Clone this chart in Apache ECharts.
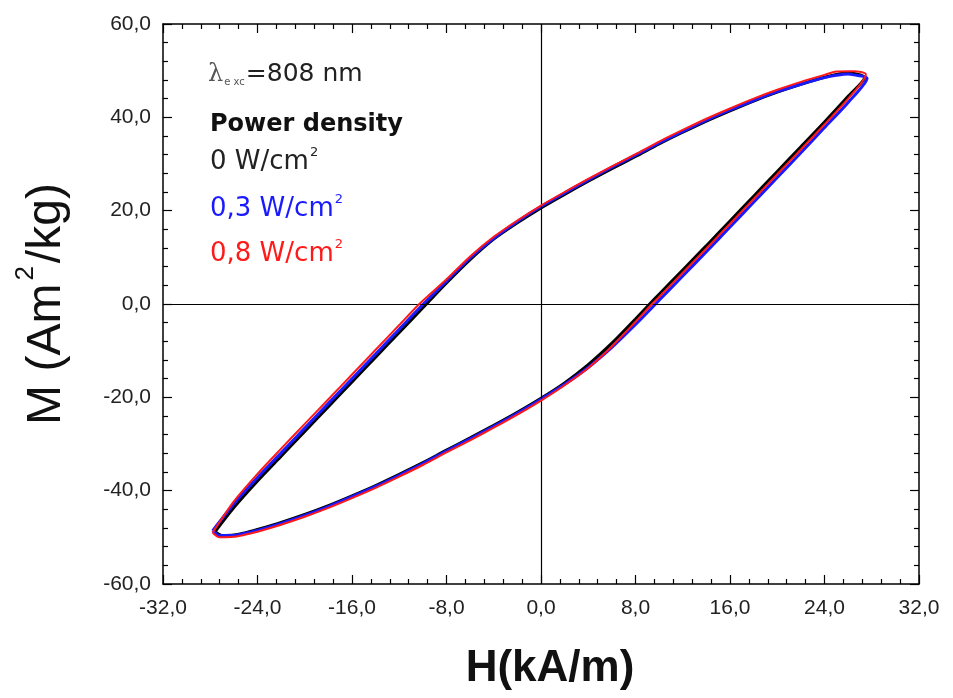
<!DOCTYPE html>
<html>
<head>
<meta charset="utf-8">
<script src="https://cdn.jsdelivr.net/npm/echarts@6/dist/echarts.min.js"></script>
<style>html,body{margin:0;padding:0;background:#fff;}#c{width:953px;height:698px;}</style>
</head>
<body>
<div id="c"></div>
<script>
// Hysteresis loops: lower branch (increasing H) followed by upper branch (decreasing H)
const blackH = [-27.6,-27.0,-26,-25,-24,-22,-20,-18,-16,-14,-12,-10,-8,-6,-4,-2,0,2,4,6,8,9.2,10,12,14,16,18,20,22,24,26,27.4,
                26.5,26,25,24,22,20,18,16,14,12,10,8,6,4,2,0,-2,-4,-6,-8,-9.7,-10,-12,-14,-16,-18,-20,-22,-24,-26,-27.6];
const blackM = [-48.8,-49.6,-49.5,-49.0,-48.3,-46.8,-45.1,-43.2,-41.1,-38.9,-36.5,-34.0,-31.3,-28.7,-26.0,-23.2,-20.2,-16.9,-13.0,-8.4,-3.2,0.0,2.1,7.3,12.5,17.8,23.1,28.4,33.7,39.0,44.5,48.6,
                49.4,49.5,49.2,48.6,47.1,45.4,43.5,41.4,39.2,36.8,34.3,31.6,29.0,26.3,23.5,20.6,17.4,13.9,9.5,4.5,0.0,-0.8,-6.1,-11.4,-16.7,-22.0,-27.3,-32.6,-37.9,-43.6,-48.8];
const blueH  = [-27.8,-27.2,-26,-25,-24,-22,-20,-18,-16,-14,-12,-10,-8,-6,-4,-2,0,2,4,6,8,9.7,10,12,14,16,18,20,22,24,26,27.6,
                26.5,26,25,24,22,20,18,16,14,12,10,8,6,4,2,0,-2,-4,-6,-8,-10,-12,-14,-16,-18,-20,-22,-24,-26,-27.8];
const blueM  = [-48.6,-49.6,-49.6,-49.1,-48.5,-47.0,-45.3,-43.4,-41.3,-39.1,-36.7,-34.2,-31.5,-28.9,-26.2,-23.4,-20.4,-17.2,-13.6,-9.3,-4.4,0.0,0.8,6.0,11.2,16.5,21.8,27.1,32.4,37.8,43.2,48.4,
                49.1,49.3,49.0,48.5,47.1,45.5,43.6,41.6,39.4,37.0,34.5,31.9,29.3,26.6,23.8,20.9,17.7,14.1,9.9,4.9,-0.1,-5.4,-10.7,-16.0,-21.3,-26.6,-31.9,-37.2,-42.8,-48.6];
const redH   = [-27.8,-27.2,-26,-25,-24,-22,-20,-18,-16,-14,-12,-10,-8,-6,-4,-2,0,2,4,6,8,9.4,10,12,14,16,18,20,22,24,26,27.5,
                26.5,26,25,24,22,20,18,16,14,12,10,8,6,4,2,0,-2,-4,-6,-8,-10.3,-12,-14,-16,-18,-20,-22,-24,-26,-27.8];
const redM   = [-49.0,-50.0,-49.9,-49.4,-48.8,-47.3,-45.6,-43.7,-41.6,-39.4,-37.0,-34.5,-31.8,-29.2,-26.5,-23.7,-20.7,-17.4,-13.7,-9.1,-3.8,0.0,1.5,6.7,11.9,17.2,22.5,27.8,33.1,38.5,44.0,49.2,
                49.9,49.9,49.8,49.1,47.6,45.9,44.0,41.9,39.7,37.3,34.8,32.1,29.5,26.8,24.0,21.1,17.9,14.4,10.2,5.3,0.0,-4.5,-9.8,-15.1,-20.4,-25.7,-31.0,-36.4,-42.3,-49.0];

const seriesNames = ['0 W/cm²','0,3 W/cm²','0,8 W/cm²'];
const legendTexts = ['{a|0 W/cm}{sup|2}','{a|0,3 W/cm}{sup|2}','{a|0,8 W/cm}{sup|2}'];
const xTicks = {min:-32, max:32, interval:8};
const yTicks = {min:-60, max:60, interval:20};

const pair = (h, m) => h.map((v, i) => [v, m[i]]);
const fmt = v => v.toFixed(1).replace('.', ',');
const FONT = 'Liberation Sans, Arial, sans-serif';
const LFONT = 'DejaVu Sans, sans-serif';

const chart = echarts.init(document.getElementById('c'));
const axisCommon = {
  type: 'value',
  axisLine: {show: true, onZero: false, lineStyle: {color: '#000', width: 1.5}},
  axisTick: {show: true, inside: true, length: 9, lineStyle: {color: '#000', width: 1.2}},
  minorTick: {show: true, splitNumber: 5, length: 5, lineStyle: {color: '#000', width: 1.2}},
  splitLine: {show: false}
};
const legendLine = (txt, top, color, size) => ({
  type: 'text', left: 210, top: top, style: {
    text: txt,
    rich: {
      a: {fontSize: size, fontFamily: LFONT, fill: color, verticalAlign: 'bottom'},
      sup: {fontSize: 13, fontFamily: LFONT, fill: color, verticalAlign: 'bottom', padding: [0, 0, 16, 1]}
    }
  }
});
chart.setOption({
  animation: false,
  backgroundColor: '#fff',
  grid: {left: 163, right: 34, top: 24, bottom: 114, containLabel: false, outerBoundsMode: 'none'},
  xAxis: [
    Object.assign({}, axisCommon, {
      position: 'bottom', min: xTicks.min, max: xTicks.max, interval: xTicks.interval,
      axisLabel: {formatter: fmt, color: '#222', fontSize: 21, fontFamily: FONT, margin: 14},
      name: 'H(kA/m)', nameLocation: 'middle', nameGap: 63,
      nameTextStyle: {fontSize: 44, fontWeight: 'bold', color: '#111', fontFamily: FONT, padding: [0, 0, 0, 18]}
    }),
    Object.assign({}, axisCommon, {
      position: 'top', min: xTicks.min, max: xTicks.max, interval: xTicks.interval,
      axisLabel: {show: false}
    })
  ],
  yAxis: [
    Object.assign({}, axisCommon, {
      position: 'left', min: yTicks.min, max: yTicks.max, interval: yTicks.interval,
      axisLabel: {formatter: fmt, color: '#222', fontSize: 21, fontFamily: FONT, margin: 12},
      name: '{m|M (Am}{sup|2}{m|/kg)}', nameLocation: 'middle', nameGap: 92, nameRotate: 90,
      nameTextStyle: {color: '#111', fontFamily: FONT,
        rich: {
          m: {fontSize: 48, color: '#111', fontFamily: FONT, verticalAlign: 'bottom'},
          sup: {fontSize: 26, color: '#111', fontFamily: FONT, verticalAlign: 'bottom', padding: [0, 3, 32, 3]}
        }}
    }),
    Object.assign({}, axisCommon, {
      position: 'right', min: yTicks.min, max: yTicks.max, interval: yTicks.interval,
      axisLabel: {show: false}
    })
  ],
  series: [
    {
      name: seriesNames[0], type: 'line', showSymbol: false, smooth: 0.25, data: pair(blackH, blackM),
      lineStyle: {color: '#000', width: 3}, z: 3,
      markLine: {
        silent: true, symbol: 'none', label: {show: false},
        lineStyle: {color: '#000', width: 1.2, type: 'solid'},
        data: [{xAxis: 0}, {yAxis: 0}]
      }
    },
    {name: seriesNames[1], type: 'line', showSymbol: false, smooth: 0.25, data: pair(blueH, blueM),
     lineStyle: {color: '#1a1aff', width: 3}, z: 4},
    {name: seriesNames[2], type: 'line', showSymbol: false, smooth: 0.25, data: pair(redH, redM),
     lineStyle: {color: '#ff1a1a', width: 2}, z: 5}
  ],
  graphic: [
    {type: 'text', left: 208, top: 62, style: {
      text: '{l|λ}{s|e xc}{n|=808 nm}',
      rich: {
        l: {fontSize: 24, fontFamily: 'DejaVu Serif, serif', fill: '#555'},
        s: {fontSize: 10, fontFamily: LFONT, fill: '#555', verticalAlign: 'bottom', padding: [14, 1, 0, 1]},
        n: {fontSize: 25, fontFamily: LFONT, fill: '#222'}
      }}},
    {type: 'text', left: 210, top: 113, style: {text: 'Power density', fontSize: 24, fontWeight: 'bold', fontFamily: LFONT, fill: '#111'}},
    legendLine(legendTexts[0], 146, '#222', 26),
    legendLine(legendTexts[1], 193, '#1a1aff', 26),
    legendLine(legendTexts[2], 238, '#ff1a1a', 26)
  ]
});
</script>
</body>
</html>
